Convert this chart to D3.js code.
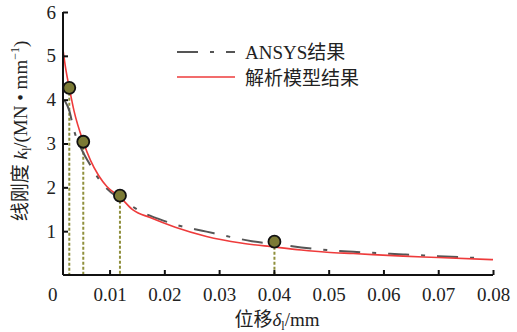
<!DOCTYPE html>
<html>
<head>
<meta charset="utf-8">
<script src="https://cdn.jsdelivr.net/npm/d3@7"></script>
<style>
  body { margin: 0; background: #fff; }
  svg text { font-family: "Liberation Serif", Tinos, "Times New Roman", "DejaVu Serif", "Noto Sans CJK SC", serif; fill: #222; }
</style>
</head>
<body>
<svg id="chart" width="517" height="332"></svg>
<script>
// displacement δl (mm) vs line stiffness kl (MN·mm^-1)
const ansysX = [0.0018, 0.0027, 0.0034, 0.0052, 0.0061, 0.0073, 0.0095, 0.0115, 0.0142, 0.017, 0.0183, 0.022, 0.0277, 0.032, 0.036, 0.04, 0.045, 0.0497, 0.0545, 0.0636, 0.07, 0.0785];
const ansysK = [3.98, 3.73, 3.35, 2.79, 2.59, 2.33, 1.97, 1.77, 1.56, 1.37, 1.31, 1.15, 0.99, 0.87, 0.77, 0.71, 0.63, 0.57, 0.53, 0.47, 0.43, 0.38];

const modelX = [0.0015, 0.002, 0.0026, 0.0035, 0.0052, 0.0065, 0.008, 0.0095, 0.0119, 0.0142, 0.0174, 0.022, 0.0277, 0.034, 0.04, 0.045, 0.0497, 0.0545, 0.0636, 0.07, 0.08];
const modelK = [5.14, 4.7, 4.3, 3.75, 3.04, 2.62, 2.27, 2.02, 1.78, 1.49, 1.31, 1.09, 0.88, 0.73, 0.64, 0.57, 0.52, 0.49, 0.43, 0.40, 0.35];

// sampled points marked on the curves
const markX = [0.00265, 0.0052, 0.0119, 0.0401];
const markK = [4.27, 3.04, 1.81, 0.76];

const xTicks = [0, 0.01, 0.02, 0.03, 0.04, 0.05, 0.06, 0.07, 0.08];
const yTicks = [1, 2, 3, 4, 5, 6];

const legendLabels = ["ANSYS结果", "解析模型结果"];

const svg = d3.select("#chart");
const x = d3.scaleLinear().domain([0.0015, 0.08]).range([63, 493]);
const y = d3.scaleLinear().domain([0, 6]).range([275, 12]);

const serif = "'Liberation Serif', Tinos, 'Times New Roman', 'DejaVu Serif', 'Noto Sans CJK SC', serif";
const grayColor = "#555555";
const redColor = "#ee3b3b";
const dashDot = "21,12,4,12";

// vertical guides from each marked point down to the axis
svg.append("g").selectAll("line").data(markX).join("line")
  .attr("x1", d => x(d)).attr("x2", d => x(d))
  .attr("y1", (d, i) => y(markK[i])).attr("y2", y(0))
  .attr("stroke", "#8f8f3c").attr("stroke-width", 2)
  .attr("stroke-dasharray", "3,2");

const line = d3.line().x(d => x(d[0])).y(d => y(d[1])).curve(d3.curveMonotoneX);

svg.append("path")
  .datum(ansysX.map((v, i) => [v, ansysK[i]]))
  .attr("d", line).attr("fill", "none")
  .attr("stroke", grayColor).attr("stroke-width", 2)
  .attr("stroke-dasharray", dashDot);

svg.append("path")
  .datum(modelX.map((v, i) => [v, modelK[i]]))
  .attr("d", line).attr("fill", "none")
  .attr("stroke", redColor).attr("stroke-width", 1.6);

svg.append("g").selectAll("circle").data(markX).join("circle")
  .attr("cx", d => x(d)).attr("cy", (d, i) => y(markK[i]))
  .attr("r", 6)
  .attr("fill", "#7b7a35").attr("stroke", "#111").attr("stroke-width", 1.8);

// axes with inward ticks
const xAxis = d3.axisBottom(x).tickValues(xTicks)
  .tickSize(-5).tickPadding(13)
  .tickFormat(d => d === 0 ? "0" : d3.format(".2f")(d));
const gx = svg.append("g").attr("transform", `translate(0,${y(0)})`).call(xAxis)
  .attr("font-family", serif).attr("font-size", 19);
gx.select(".domain").attr("d", `M${x.range()[0]},0H${x.range()[1]}`)
  .attr("stroke", "#111").attr("stroke-width", 2);
gx.selectAll(".tick line").attr("stroke", "#111").attr("stroke-width", 2)
  .filter(d => d === 0).remove();
gx.selectAll(".tick text").attr("fill", "#222");
gx.selectAll(".tick").filter(d => d === 0).attr("transform", `translate(${x(0) - 2},0)`);

const yAxis = d3.axisLeft(y).tickValues(yTicks).tickSize(-5).tickPadding(7)
  .tickFormat(d3.format("d"));
const gy = svg.append("g").attr("transform", `translate(${x.range()[0]},0)`).call(yAxis)
  .attr("font-family", serif).attr("font-size", 19);
gy.select(".domain").attr("d", `M0,${y.range()[0]}V${y.range()[1]}`)
  .attr("stroke", "#111").attr("stroke-width", 2);
gy.selectAll(".tick line").attr("stroke", "#111").attr("stroke-width", 2);
gy.selectAll(".tick text").attr("fill", "#222");

// legend
const lg = svg.append("g");
lg.append("line").attr("x1", 177).attr("x2", 235).attr("y1", 52).attr("y2", 52)
  .attr("stroke", grayColor).attr("stroke-width", 2).attr("stroke-dasharray", dashDot);
lg.append("line").attr("x1", 177).attr("x2", 235).attr("y1", 77).attr("y2", 77)
  .attr("stroke", redColor).attr("stroke-width", 1.6);
lg.selectAll("text").data(legendLabels).join("text")
  .attr("x", 245).attr("y", (d, i) => 59 + i * 26)
  .attr("font-size", 19).text(d => d);

// axis titles
const xt = svg.append("text").attr("x", 277).attr("y", 326)
  .attr("text-anchor", "middle").attr("font-size", 19);
xt.append("tspan").text("位移");
xt.append("tspan").attr("font-style", "italic").text("δ");
xt.append("tspan").attr("font-size", 12).attr("dy", 4).text("l");
xt.append("tspan").attr("dy", -4).text("/mm");

const yt = svg.append("text")
  .attr("transform", "translate(27,131) rotate(-90)")
  .attr("text-anchor", "middle").attr("font-size", 19);
yt.append("tspan").text("线刚度 ");
yt.append("tspan").attr("font-style", "italic").text("k");
yt.append("tspan").attr("font-size", 12).attr("dy", 4).text("l");
yt.append("tspan").attr("dy", -4).text("/(MN • mm");
yt.append("tspan").attr("font-size", 12).attr("dy", -8).text("−1");
yt.append("tspan").attr("dy", 8).text(")");
</script>
</body>
</html>
